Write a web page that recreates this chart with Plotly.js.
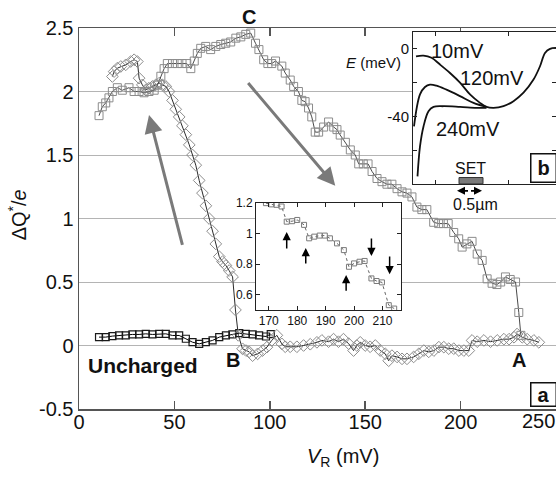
<!DOCTYPE html>
<html>
<head>
<meta charset="utf-8">
<script src="https://cdn.plot.ly/plotly-3.0.1.min.js"></script>
<style>html,body{margin:0;padding:0;background:#fff;}#chart{width:556px;height:477px;}</style>
</head>
<body>
<div id="chart"></div>
<script>
// ---- main panel (a): charging sweep, grey squares ----
const chargeV = [10.5, 12.2, 14, 15.7, 17.5, 20.1, 22.7, 26.2, 28.9, 31.5,
  34.1, 36.7, 39.4, 41.1, 42.9, 44.6, 46.3, 49, 51.5, 54,
  56.5, 58.6, 60.4, 62, 63.8, 66.4, 69, 71.7, 74.3, 76.9,
  79.5, 82.2, 84.8, 87.4, 90, 92.5, 94.3, 96.8, 99, 101,
  103, 106.3, 108.1, 110.7, 112.5, 115, 116.8, 118.5, 120.3, 122,
  123.8, 125.6, 128.2, 130.8, 133.5, 135.2, 136.9, 139.6, 142.2, 144.8,
  146.6, 149, 151.5, 153.6, 156.2, 158.8, 161.4, 164, 166.7, 169.3,
  171.9, 174.5, 177.1, 179.7, 182.3, 185.9, 188.5, 191, 193.5, 196.4,
  199, 200.8, 203.3, 206, 208.7, 211.3, 213.9, 216.5, 219, 221,
  223.5, 226, 228.8, 230.5, 231.6];
const chargeQ = [1.81, 1.88, 1.91, 1.95, 2.0, 2.03, 2.01, 2.03, 2.0, 2.0,
  1.99, 2.0, 2.01, 2.05, 2.12, 2.18, 2.22, 2.22, 2.22, 2.22,
  2.22, 2.18, 2.24, 2.30, 2.34, 2.355, 2.33, 2.355, 2.37, 2.38,
  2.39, 2.42, 2.43, 2.45, 2.46, 2.38, 2.33, 2.25, 2.22, 2.22,
  2.24, 2.20, 2.145, 2.09, 2.04, 2.0, 1.93, 1.92, 1.87, 1.80,
  1.68, 1.68, 1.72, 1.76, 1.72, 1.70, 1.657, 1.60, 1.54, 1.50,
  1.43, 1.43, 1.43, 1.37, 1.315, 1.29, 1.27, 1.27, 1.235, 1.21,
  1.20, 1.17, 1.09, 1.07, 1.07, 0.97, 0.96, 0.96, 0.96, 0.89,
  0.84, 0.775, 0.80, 0.82, 0.72, 0.67, 0.525, 0.49, 0.48, 0.50,
  0.54, 0.52, 0.50, 0.26, 0.08];

// ---- discharge sweep, grey diamonds ----
const dischargeV = [17.5, 18.4, 20.1, 21.9, 24.5, 27.1, 28.9, 30.6, 31.5, 33.2,
  35, 36.7, 38.5, 40.2, 42, 43.7, 45.5, 47.2, 49, 50.7,
  52.5, 54.2, 56, 57.8, 59.5, 61.2, 63, 64.7, 66.5, 68.2,
  70, 71.7, 73.5, 75.2, 77, 78.7, 80.5, 82, 83.5, 85.7,
  87.5, 89.2, 91, 93.6, 96.2, 98.5, 101, 103.7, 106.3, 108.1,
  110.7, 114.2, 117.7, 121.2, 124.7, 127.3, 130.8, 133.4, 136, 138.6,
  141.3, 143.9, 145.6, 147.4, 150, 152.6, 155.3, 157.9, 160.5, 162.3,
  164, 166.7, 169.3, 171.9, 175.4, 178.1, 180.7, 183.3, 186, 188.6,
  191.2, 193.8, 196.4, 199.1, 201.7, 204.3, 206, 208.7, 212.2, 215.7,
  219.2, 222.7, 225.4, 228, 229.6, 232.3, 234.9, 238.4, 241];
const dischargeQ = [2.118, 2.157, 2.184, 2.197, 2.21, 2.236, 2.25, 2.236, 2.105, 2.052,
  2.013, 2.026, 2.04, 2.052, 2.066, 2.052, 2.04, 2.0, 1.93, 1.86,
  1.80, 1.73, 1.66, 1.58, 1.50, 1.42, 1.30, 1.20, 1.10, 1.00,
  0.90, 0.80, 0.70, 0.66, 0.63, 0.59, 0.54, 0.28, 0.08, -0.026,
  -0.04, -0.05, -0.08, -0.066, -0.04, -0.013, 0.04, 0.08, 0.013, -0.01,
  -0.01, -0.01, 0.0, 0.01, 0.025, 0.04, 0.03, 0.05, 0.03, 0.05,
  0.015, -0.04, 0.0, 0.025, 0.0, -0.01, 0.0, -0.04, -0.065, -0.12,
  -0.08, -0.09, -0.105, -0.105, -0.09, -0.065, -0.04, -0.05, -0.04, -0.013,
  -0.013, -0.025, -0.025, -0.04, -0.04, -0.04, 0.04, 0.03, 0.04, 0.03,
  0.04, 0.05, 0.05, 0.065, 0.09, 0.065, 0.05, 0.04, 0.025];

// ---- uncharged sweep, black squares ----
const unchargedV = [10.5, 14, 17.5, 21, 24.5, 28, 31.5, 35, 38.5, 42,
  45.5, 49, 52.5, 56, 59.5, 63, 66.5, 70, 73.5, 77,
  80.4, 84, 87.4, 91, 94.4, 98, 100.5];
const unchargedQ = [0.066, 0.066, 0.074, 0.079, 0.079, 0.087, 0.087, 0.092, 0.087, 0.092,
  0.092, 0.079, 0.079, 0.053, 0.026, 0.013, 0.026, 0.04, 0.066, 0.079,
  0.087, 0.097, 0.092, 0.087, 0.079, 0.071, 0.09];

// ---- zoom inset ----
const insetV = [169, 170.9, 172.7, 174.5, 176.3, 178.2, 180, 182.4, 184.2, 186,
  187.9, 189.7, 191.5, 194, 196.4, 198.2, 200, 201.9, 203.7, 206.1,
  207.9, 209.8, 212.2, 214.1];
const insetQ = [1.198, 1.19, 1.187, 1.176, 1.077, 1.08, 1.088, 1.056, 0.968, 0.979,
  0.986, 0.986, 0.968, 0.935, 0.891, 0.782, 0.804, 0.815, 0.82, 0.706,
  0.689, 0.68, 0.531, 0.509];
const insetTicksX = [170, 180, 190, 200, 210];
const insetTicksY = [0.6, 0.8, 1, 1.2];
const insetTickTextY = ["0.6", "0.8", "1", "1.2"];

// ---- panel (b): potential profiles ----
const e10X = [0.06, 0.21, 0.37, 0.54, 0.74, 0.94, 1.14, 1.34, 1.47, 1.61, 1.81, 2.01, 2.21, 2.41, 2.54, 2.64, 2.74, 2.86];
const e10Y = [-4.4, -4, -5.3, -9.3, -14.3, -20, -27, -32, -34.4, -35, -34, -31, -26, -18.2, -10.3, -2.4, 0, 0.6];
const e120X = [0.02, 0.14, 0.24, 0.34, 0.47, 0.67, 0.94, 1.21, 1.47];
const e120Y = [-46, -27, -22.6, -21.2, -21.8, -24.2, -28, -32, -34.4];
const e240X = [0.09, 0.14, 0.21, 0.31, 0.41, 0.61, 0.94, 1.27, 1.47];
const e240Y = [-75.6, -57.8, -46, -37, -34.4, -34, -34.4, -35, -35];
const bTicksY = [-80, -60, -40, -20, 0];
const bTickTextY = ["", "", "-40", "", "0"];

// ---- main axis ticks ----
const mainTicksX = [0, 50, 100, 150, 200, 250];
const mainTickTextX = ["0", "50", "100", "150", "200", ""];   // "250" placed as a note so it stays inside the page
const lastTickText = "250";
const mainTicksY = [-0.5, 0, 0.5, 1, 1.5, 2, 2.5];
const mainTickTextY = ["-0.5", "0", "0.5", "1", "1.5", "2", "2.5"];

const FONT = "Liberation Sans, Arial, Helvetica, sans-serif";

const traces = [
  {x: unchargedV, y: unchargedQ, type: "scatter", mode: "lines+markers", xaxis: "x", yaxis: "y",
   line: {color: "#000", width: 1},
   marker: {symbol: "square-open", size: 7, color: "#1a1a1a", line: {width: 1.2}}},
  {x: dischargeV, y: dischargeQ, type: "scatter", mode: "lines+markers", xaxis: "x", yaxis: "y",
   line: {color: "#2a2a2a", width: 1},
   marker: {symbol: "diamond-open", size: 9, color: "#8c8c8c", line: {width: 1}}},
  {x: chargeV, y: chargeQ, type: "scatter", mode: "lines+markers", xaxis: "x", yaxis: "y",
   line: {color: "#4a4a4a", width: 1},
   marker: {symbol: "square-open", size: 8, color: "#8c8c8c", line: {width: 1}}},
  {x: insetV, y: insetQ, type: "scatter", mode: "lines+markers", xaxis: "x2", yaxis: "y2",
   line: {color: "#666", width: 1, dash: "dot"},
   marker: {symbol: "square-open", size: 5, color: "#7a7a7a", line: {width: 1}}},
  {x: e10X, y: e10Y, type: "scatter", mode: "lines", xaxis: "x3", yaxis: "y3",
   line: {color: "#111", width: 1.8, shape: "spline"}},
  {x: e120X, y: e120Y, type: "scatter", mode: "lines", xaxis: "x3", yaxis: "y3",
   line: {color: "#111", width: 1.8, shape: "spline"}},
  {x: e240X, y: e240Y, type: "scatter", mode: "lines", xaxis: "x3", yaxis: "y3",
   line: {color: "#111", width: 1.8, shape: "spline"}}
];

// pixel -> paper helpers (plot area: x 79..556, y 28.3..409)
const px = v => (v - 79) / 477;
const py = v => (409 - v) / 380.7;

function label(xp, yp, text, size, extra) {
  return Object.assign({xref: "paper", yref: "paper", x: px(xp), y: py(yp), text: text,
    showarrow: false, xanchor: "center", yanchor: "middle", font: {size: size, color: "#111"}}, extra || {});
}

const annotations = [
  // axis titles
  label(343, 457, "<i>V</i><sub>R</sub> (mV)", 20),
  label(17.5, 215, "ΔQ<sup>*</sup>/<i>e</i>", 20, {textangle: -90}),
  label(538, 421, lastTickText, 20),
  // point labels
  label(249, 17.5, "<b>C</b>", 20),
  label(233, 360, "<b>B</b>", 20),
  label(519, 360, "<b>A</b>", 20),
  label(142.5, 366, "<b>Uncharged</b>", 21),
  // panel letters
  label(543, 395, "<b>a</b>", 20, {bordercolor: "#111", borderwidth: 1.5, bgcolor: "#fff", width: 22, height: 20, borderpad: 1}),
  label(543, 168, "<b>b</b>", 20, {bordercolor: "#111", borderwidth: 1.5, bgcolor: "#fff", width: 22, height: 25, borderpad: 1}),
  // grey sweep arrows
  {xref: "x", yref: "y", axref: "x", ayref: "y", x: 36.7, y: 1.815, ax: 54.4, ay: 0.78, text: "",
   showarrow: true, arrowhead: 2, arrowsize: 1.2, arrowwidth: 3, arrowcolor: "#7a7a7a"},
  {xref: "x", yref: "y", axref: "x", ayref: "y", x: 134.3, y: 1.257, ax: 88, ay: 2.078, text: "",
   showarrow: true, arrowhead: 2, arrowsize: 1.2, arrowwidth: 3, arrowcolor: "#7a7a7a"},
  // inset arrows
  {xref: "x2", yref: "y2", axref: "x2", ayref: "y2", x: 176.3, y: 1.01, ax: 176.3, ay: 0.892, text: "",
   showarrow: true, arrowhead: 2, arrowsize: 1.1, arrowwidth: 1.5, arrowcolor: "#000"},
  {xref: "x2", yref: "y2", axref: "x2", ayref: "y2", x: 183, y: 0.905, ax: 183, ay: 0.793, text: "",
   showarrow: true, arrowhead: 2, arrowsize: 1.1, arrowwidth: 1.5, arrowcolor: "#000"},
  {xref: "x2", yref: "y2", axref: "x2", ayref: "y2", x: 197.2, y: 0.728, ax: 197.2, ay: 0.616, text: "",
   showarrow: true, arrowhead: 2, arrowsize: 1.1, arrowwidth: 1.5, arrowcolor: "#000"},
  {xref: "x2", yref: "y2", axref: "x2", ayref: "y2", x: 206.1, y: 0.852, ax: 206.1, ay: 0.977, text: "",
   showarrow: true, arrowhead: 2, arrowsize: 1.1, arrowwidth: 1.5, arrowcolor: "#000"},
  {xref: "x2", yref: "y2", axref: "x2", ayref: "y2", x: 212.5, y: 0.734, ax: 212.5, ay: 0.859, text: "",
   showarrow: true, arrowhead: 2, arrowsize: 1.1, arrowwidth: 1.5, arrowcolor: "#000"},
  // panel b texts
  label(457, 51, "10mV", 20),
  label(492, 78, "120mV", 20),
  label(468, 129, "240mV", 20),
  label(373, 63, "<i>E</i> (meV)", 15),
  label(470, 169, "SET", 16),
  label(475, 205, "0.5µm", 16),
  {xref: "paper", yref: "paper", x: px(457), y: py(191), ax: 12.5, ay: 0, text: "", showarrow: true,
   arrowhead: 2, arrowsize: 1, arrowwidth: 1.6, arrowcolor: "#000"},
  {xref: "paper", yref: "paper", x: px(482), y: py(191), ax: -12.5, ay: 0, text: "", showarrow: true,
   arrowhead: 2, arrowsize: 1, arrowwidth: 1.6, arrowcolor: "#000"}
];

const shapes = [
  {type: "rect", xref: "paper", yref: "paper", x0: px(459), x1: px(483), y0: py(184), y1: py(177.7),
   fillcolor: "#7a7a7a", line: {color: "#333", width: 1}, layer: "above"}
];

const layout = {
  width: 556, height: 477,
  margin: {l: 79, r: 0, t: 28, b: 68, pad: 0},
  paper_bgcolor: "#fff", plot_bgcolor: "#fff",
  showlegend: false,
  font: {family: FONT, size: 20, color: "#111"},
  xaxis: {domain: [0, 1], anchor: "y", range: [0, 250], tickvals: mainTicksX, ticktext: mainTickTextX,
    ticks: "inside", ticklen: 8, tickwidth: 1.5, tickcolor: "#555", ticklabelstandoff: -6,
    showline: true, linecolor: "#555", linewidth: 1.5, mirror: "ticks",
    showgrid: false, zeroline: false, tickfont: {size: 20, color: "#111"}},
  yaxis: {domain: [0, 1], anchor: "x", range: [-0.5, 2.5], tickvals: mainTicksY, ticktext: mainTickTextY,
    ticks: "", showline: true, linecolor: "#555", linewidth: 1.5,
    showgrid: true, gridcolor: "#b4b4b4", gridwidth: 1, zeroline: false,
    tickfont: {size: 20, color: "#111"}},
  xaxis2: {domain: [px(256), px(401)], anchor: "y2", range: [165.5, 216.5], tickvals: insetTicksX,
    ticks: "inside", ticklen: 4, tickcolor: "#222", showline: true, linecolor: "#222", linewidth: 1,
    mirror: "ticks", showgrid: false, zeroline: false, tickfont: {size: 12, color: "#111"}},
  yaxis2: {domain: [py(310), py(203)], anchor: "x2", range: [0.5, 1.2], tickvals: insetTicksY, ticktext: insetTickTextY,
    ticks: "inside", ticklen: 4, tickcolor: "#222", showline: true, linecolor: "#222", linewidth: 1,
    mirror: "ticks", showgrid: false, zeroline: false, tickfont: {size: 12, color: "#111"}},
  xaxis3: {domain: [px(413), 1], anchor: "y3", range: [0, 2.86], tickvals: [0.45, 1.9],
    showticklabels: false, ticks: "inside", ticklen: 4, tickcolor: "#222",
    showline: true, linecolor: "#222", linewidth: 1, mirror: "ticks", showgrid: false, zeroline: false},
  yaxis3: {domain: [py(184), py(32.3)], anchor: "x3", range: [-80, 10], tickvals: bTicksY, ticktext: bTickTextY,
    ticks: "inside", ticklen: 4, tickcolor: "#222", showline: true, linecolor: "#222", linewidth: 1,
    mirror: "ticks", showgrid: false, zeroline: false, tickfont: {size: 15, color: "#111"}},
  annotations: annotations,
  shapes: shapes
};

Plotly.newPlot("chart", traces, layout, {displayModeBar: false, staticPlot: true});
</script>
</body>
</html>
